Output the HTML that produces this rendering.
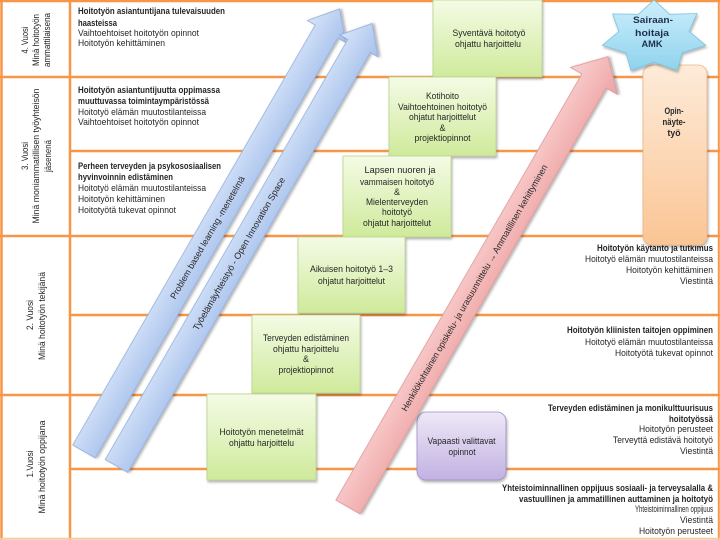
<!DOCTYPE html>
<html><head><meta charset="utf-8">
<style>
html,body{margin:0;padding:0;background:#fff;}
svg{display:block;font-family:"Liberation Sans",sans-serif;}
text{fill:#262626;font-size:9px;}
.b{font-weight:bold;}
.m{text-anchor:middle;}
.e{text-anchor:end;}
.big{font-size:9.5px;}
</style></head>
<body>
<svg width="720" height="540" viewBox="0 0 720 540" xmlns="http://www.w3.org/2000/svg">
<defs>
<linearGradient id="gg" x1="0" y1="0" x2="0" y2="1"><stop offset="0" stop-color="#f4fbe5"/><stop offset="1" stop-color="#cfea9b"/></linearGradient>
<linearGradient id="gb" x1="0" y1="0" x2="0" y2="1"><stop offset="0" stop-color="#d6e4f8"/><stop offset="1" stop-color="#a6c0ec"/></linearGradient>
<linearGradient id="gp" x1="0" y1="0" x2="0" y2="1"><stop offset="0" stop-color="#fad2d2"/><stop offset="1" stop-color="#eea2a2"/></linearGradient>
<linearGradient id="gv" x1="0" y1="0" x2="0" y2="1"><stop offset="0" stop-color="#eee8f7"/><stop offset="1" stop-color="#c2b1e2"/></linearGradient>
<linearGradient id="go" x1="0" y1="0" x2="0" y2="1"><stop offset="0" stop-color="#fdebd9"/><stop offset="1" stop-color="#fbc594"/></linearGradient>
<linearGradient id="gs" x1="0" y1="0" x2="0" y2="1"><stop offset="0" stop-color="#cdeefb"/><stop offset="1" stop-color="#8fd3ee"/></linearGradient>
<filter id="sh" x="-10%" y="-10%" width="130%" height="130%"><feDropShadow dx="1" dy="2" stdDeviation="1.3" flood-color="#000" flood-opacity="0.3"/></filter>
</defs>
<rect x="0" y="0" width="720" height="540" fill="#fff"/>

<g stroke="#f79646" stroke-width="2.5" fill="none">
<line x1="0" y1="1" x2="720" y2="1"/>
<line x1="0" y1="77" x2="720" y2="77"/>
<line x1="70" y1="151" x2="720" y2="151"/>
<line x1="0" y1="236" x2="720" y2="236"/>
<line x1="70" y1="315" x2="720" y2="315"/>
<line x1="0" y1="395" x2="720" y2="395"/>
<line x1="70" y1="469" x2="720" y2="469"/>
<line x1="1.5" y1="0" x2="1.5" y2="540"/>
<line x1="70" y1="0" x2="70" y2="540"/>
<line x1="718.8" y1="0" x2="718.8" y2="540" stroke-width="2"/>
</g>
<line x1="0" y1="538.8" x2="720" y2="538.8" stroke="#f6c9a0" stroke-width="2"/>

<g>
<text class="m" transform="translate(28,40) rotate(-90)" textLength="27" lengthAdjust="spacingAndGlyphs">4. Vuosi</text>
<text class="m" transform="translate(39,40) rotate(-90)" textLength="52" lengthAdjust="spacingAndGlyphs">Minä hoitotyön</text>
<text class="m" transform="translate(50,40) rotate(-90)" textLength="54" lengthAdjust="spacingAndGlyphs">ammattilaisena</text>

<text class="m" transform="translate(28,156) rotate(-90)" textLength="28" lengthAdjust="spacingAndGlyphs">3. Vuosi</text>
<text class="m" transform="translate(39,156) rotate(-90)" textLength="135" lengthAdjust="spacingAndGlyphs">Minä moniammatillisen työyhteisön</text>
<text class="m" transform="translate(51,156) rotate(-90)" textLength="32" lengthAdjust="spacingAndGlyphs">jäsenenä</text>

<text class="m" transform="translate(33,315) rotate(-90)" textLength="30" lengthAdjust="spacingAndGlyphs">2. Vuosi</text>
<text class="m" transform="translate(45,316) rotate(-90)" textLength="88" lengthAdjust="spacingAndGlyphs">Minä hoitotyön  tekijänä</text>

<text class="m" transform="translate(33,464) rotate(-90)" textLength="27" lengthAdjust="spacingAndGlyphs">1.Vuosi</text>
<text class="m" transform="translate(45,467) rotate(-90)" textLength="93" lengthAdjust="spacingAndGlyphs">Minä hoitotyön  oppijana</text>
</g>

<text class="b" x="78" y="14" textLength="147" lengthAdjust="spacingAndGlyphs">Hoitotyön asiantuntijana  tulevaisuuden</text>
<text class="b" x="78" y="26" textLength="39" lengthAdjust="spacingAndGlyphs">haasteissa</text>
<text x="78" y="36" textLength="121" lengthAdjust="spacingAndGlyphs">Vaihtoehtoiset hoitotyön opinnot</text>
<text x="78" y="46" textLength="87" lengthAdjust="spacingAndGlyphs">Hoitotyön kehittäminen</text>

<text class="b" x="78" y="93" textLength="142" lengthAdjust="spacingAndGlyphs">Hoitotyön asiantuntijuutta  oppimassa</text>
<text class="b" x="78" y="104" textLength="131" lengthAdjust="spacingAndGlyphs">muuttuvassa toimintaympäristössä</text>
<text x="78" y="115" textLength="128" lengthAdjust="spacingAndGlyphs">Hoitotyö elämän muutostilanteissa</text>
<text x="78" y="125" textLength="121" lengthAdjust="spacingAndGlyphs">Vaihtoehtoiset hoitotyön opinnot</text>

<text class="b" x="78" y="169" textLength="143" lengthAdjust="spacingAndGlyphs">Perheen terveyden ja psykososiaalisen</text>
<text class="b" x="78" y="180" textLength="95" lengthAdjust="spacingAndGlyphs">hyvinvoinnin edistäminen</text>
<text x="78" y="191" textLength="128" lengthAdjust="spacingAndGlyphs">Hoitotyö elämän muutostilanteissa</text>
<text x="78" y="202" textLength="87" lengthAdjust="spacingAndGlyphs">Hoitotyön kehittäminen</text>
<text x="78" y="213" textLength="98" lengthAdjust="spacingAndGlyphs">Hoitotyötä tukevat opinnot</text>

<g>
<text class="b e" x="713" y="251" textLength="116" lengthAdjust="spacingAndGlyphs">Hoitotyön käytäntö ja tutkimus</text>
<text class="e" x="713" y="262" textLength="128" lengthAdjust="spacingAndGlyphs">Hoitotyö elämän muutostilanteissa</text>
<text class="e" x="713" y="273" textLength="87" lengthAdjust="spacingAndGlyphs">Hoitotyön kehittäminen</text>
<text class="e" x="713" y="284" textLength="33" lengthAdjust="spacingAndGlyphs">Viestintä</text>

<text class="b e" x="713" y="333" textLength="146" lengthAdjust="spacingAndGlyphs">Hoitotyön kliinisten taitojen oppiminen</text>
<text class="e" x="713" y="345" textLength="128" lengthAdjust="spacingAndGlyphs">Hoitotyö elämän muutostilanteissa</text>
<text class="e" x="713" y="356" textLength="98" lengthAdjust="spacingAndGlyphs">Hoitotyötä tukevat opinnot</text>

<text class="b e" x="713" y="411" textLength="165" lengthAdjust="spacingAndGlyphs">Terveyden edistäminen ja monikulttuurisuus</text>
<text class="b e" x="713" y="422" textLength="44" lengthAdjust="spacingAndGlyphs">hoitotyössä</text>
<text class="e" x="713" y="432" textLength="74" lengthAdjust="spacingAndGlyphs">Hoitotyön perusteet</text>
<text class="e" x="713" y="443" textLength="100" lengthAdjust="spacingAndGlyphs">Terveyttä edistävä hoitotyö</text>
<text class="e" x="713" y="454" textLength="33" lengthAdjust="spacingAndGlyphs">Viestintä</text>

<text class="b e" x="713" y="491" textLength="211" lengthAdjust="spacingAndGlyphs">Yhteistoiminnallinen  oppijuus  sosiaali- ja terveysalalla &amp;</text>
<text class="b e" x="713" y="502" textLength="194" lengthAdjust="spacingAndGlyphs">vastuullinen ja ammatillinen auttaminen  ja hoitotyö</text>
<text class="e" x="713" y="512" textLength="78" lengthAdjust="spacingAndGlyphs">Yhteistoiminnallinen oppijuus</text>
<text class="e" x="713" y="523" textLength="33" lengthAdjust="spacingAndGlyphs">Viestintä</text>
<text class="e" x="713" y="534" textLength="74" lengthAdjust="spacingAndGlyphs">Hoitotyön perusteet</text>
</g>

<g filter="url(#sh)" stroke="#b9d48e" stroke-width="0.8" fill="url(#gg)">
<rect x="433" y="0" width="109" height="77"/>
<rect x="389" y="77" width="107" height="79"/>
<rect x="343" y="156" width="108" height="81"/>
<rect x="298" y="237" width="107" height="76"/>
<rect x="252" y="315" width="108" height="78"/>
<rect x="207" y="394" width="109" height="86"/>
</g>
<text class="m" x="489" y="36" textLength="73" lengthAdjust="spacingAndGlyphs">Syventävä hoitotyö</text>
<text class="m" x="488" y="47" textLength="66" lengthAdjust="spacingAndGlyphs">ohjattu harjoittelu</text>

<text class="m" x="442.5" y="99" textLength="33" lengthAdjust="spacingAndGlyphs">Kotihoito</text>
<text class="m" x="442.5" y="110" textLength="89" lengthAdjust="spacingAndGlyphs">Vaihtoehtoinen hoitotyö</text>
<text class="m" x="442.5" y="120" textLength="67" lengthAdjust="spacingAndGlyphs">ohjatut harjoittelut</text>
<text class="m" x="442.5" y="131">&amp;</text>
<text class="m" x="442.5" y="141" textLength="56" lengthAdjust="spacingAndGlyphs">projektiopinnot</text>

<text class="m" x="400" y="173" textLength="71" lengthAdjust="spacingAndGlyphs">Lapsen nuoren ja</text>
<text class="m" x="397" y="185" textLength="74" lengthAdjust="spacingAndGlyphs">vammaisen hoitotyö</text>
<text class="m" x="397" y="195">&amp;</text>
<text class="m" x="397" y="205" textLength="62" lengthAdjust="spacingAndGlyphs">Mielenterveyden</text>
<text class="m" x="397" y="215" textLength="30" lengthAdjust="spacingAndGlyphs">hoitotyö</text>
<text class="m" x="397" y="226" textLength="68" lengthAdjust="spacingAndGlyphs">ohjatut harjoittelut</text>

<text class="m" x="351.5" y="272" textLength="83" lengthAdjust="spacingAndGlyphs">Aikuisen hoitotyö  1–3</text>
<text class="m" x="351.5" y="284" textLength="67" lengthAdjust="spacingAndGlyphs">ohjatut harjoittelut</text>

<text class="m" x="306" y="341" textLength="86" lengthAdjust="spacingAndGlyphs">Terveyden edistäminen</text>
<text class="m" x="306" y="352" textLength="66" lengthAdjust="spacingAndGlyphs">ohjattu harjoittelu</text>
<text class="m" x="306" y="362">&amp;</text>
<text class="m" x="306" y="373" textLength="55" lengthAdjust="spacingAndGlyphs">projektiopinnot</text>

<text class="m" x="261.5" y="435" textLength="84" lengthAdjust="spacingAndGlyphs">Hoitotyön menetelmät</text>
<text class="m" x="261.5" y="446" textLength="65" lengthAdjust="spacingAndGlyphs">ohjattu harjoittelu</text>

<rect x="417" y="412" width="89" height="68" rx="9" ry="9" fill="url(#gv)" stroke="#a08fc6" stroke-width="0.8" filter="url(#sh)"/>
<text class="m" x="461.5" y="444" textLength="68" lengthAdjust="spacingAndGlyphs">Vapaasti valittavat</text>
<text class="m" x="462" y="455" textLength="27" lengthAdjust="spacingAndGlyphs">opinnot</text>

<rect x="643" y="65" width="64" height="180" rx="9" ry="9" fill="url(#go)" stroke="#f0b582" stroke-width="0.8" filter="url(#sh)"/>
<text class="m b big" x="674" y="114" textLength="19" lengthAdjust="spacingAndGlyphs">Opin-</text>
<text class="m b big" x="674" y="125" textLength="23" lengthAdjust="spacingAndGlyphs">näyte-</text>
<text class="m b big" x="674" y="136" textLength="13" lengthAdjust="spacingAndGlyphs">työ</text>

<polygon points="654,0 669.6,14.3 697,13.5 689.1,31.4 705.7,45.2 682.1,52.7 677,70.3 654,62.2 631,70.3 625.9,52.7 602.3,45.2 618.9,31.4 612.6,13.9 638.4,14.3" fill="url(#gs)" stroke="#7cc3df" stroke-width="0.8" filter="url(#sh)"/>
<text class="m b big" x="653" y="23" style="fill:#1f2f4f" textLength="40" lengthAdjust="spacingAndGlyphs">Sairaan-</text>
<text class="m b big" x="652" y="36" style="fill:#1f2f4f" textLength="34" lengthAdjust="spacingAndGlyphs">hoitaja</text>
<text class="m b big" x="652" y="47" style="fill:#1f2f4f" textLength="21" lengthAdjust="spacingAndGlyphs">AMK</text>

<g transform="translate(84,451.5) rotate(-60)">
<polygon points="0,-13 485,-13 485,-22 511,0 485,22 485,13 0,13" fill="url(#gb)" stroke="#8eaadb" stroke-width="0.8" filter="url(#sh)"/>
<text class="m" x="247" y="3" textLength="140" lengthAdjust="spacingAndGlyphs">Problem based learning  -menetelmä</text>
</g>
<g transform="translate(116.5,466) rotate(-60)">
<polygon points="0,-13 485,-13 485,-22 511,0 485,22 485,13 0,13" fill="url(#gb)" stroke="#8eaadb" stroke-width="0.8" filter="url(#sh)"/>
<text class="m" x="245" y="3" textLength="175" lengthAdjust="spacingAndGlyphs">Työelämäyhteistyö  -  Open  Innovation Space</text>
</g>

<g transform="translate(348,507) rotate(-60)">
<polygon points="0,-14 492,-14 492,-27 520,0 492,27 492,14 0,14" fill="url(#gp)" stroke="#d99594" stroke-width="0.8" filter="url(#sh)"/>
<text class="m" x="253" y="3" textLength="283" lengthAdjust="spacingAndGlyphs">Henkilökohtainen opiskelu- ja urasuunnittelu → Ammatillinen kehittyminen</text>
</g>
</svg>
</body></html>
